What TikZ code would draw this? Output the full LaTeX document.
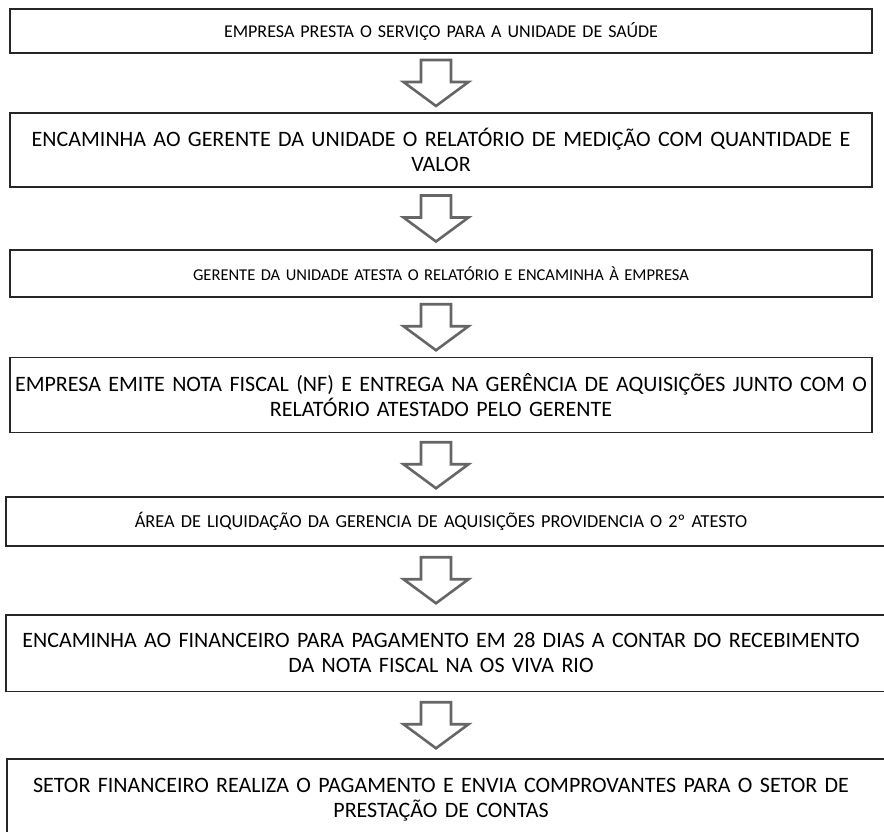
\documentclass[tikz,border=0pt]{standalone}
\usepackage{fontspec}
\setmainfont{Carlito}
\usepackage{tikz}
\usetikzlibrary{calc}
\tikzset{
	caixa/.style={draw=black!85,line width=1.8pt,minimum width=862pt,inner sep=0pt,
		text width=860pt,align=center,text=black,
		font=\fontsize{18}{25}\selectfont},
	caixa dupla/.style={caixa,font=\fontsize{22}{25}\selectfont},
	moldura/.style={draw=black!85,line width=1.8pt},
	seta/.style={draw=black!60,line width=2.6pt,fill=white,line join=miter}
}
% seta larga oca entre duas caixas
\newcommand{\setabloco}[2]{
	\coordinate (m) at ($(#1.south)!0.5!(#2.north)+(-5,0)$);
	\draw[seta] ($(m)+(-15,23)$) -- ($(m)+(15,23)$) -- ($(m)+(15,1)$) -- ($(m)+(32.5,1)$)
		-- ($(m)+(0,-23)$) -- ($(m)+(-32.5,1)$) -- ($(m)+(-15,1)$) -- cycle;
}

\begin{document}
\begin{tikzpicture}[x=1pt,y=1pt]
	\useasboundingbox (0,0) rectangle (884,-832);
	\clip (0,0) rectangle (884,-832);
	\node [caixa,minimum height=44pt] (b1) at (441,-31) {EMPRESA PRESTA O SERVIÇO PARA A UNIDADE DE SAÚDE};
	\node [caixa dupla,minimum height=74pt] (b2) at (441,-150) {ENCAMINHA AO GERENTE DA UNIDADE O RELATÓRIO DE MEDIÇÃO COM QUANTIDADE E\\ VALOR};
	\node [caixa,font=\fontsize{16.5}{25}\selectfont,minimum height=47pt] (b3) at (441,-273.5) {GERENTE DA UNIDADE ATESTA O RELATÓRIO E ENCAMINHA À EMPRESA};
	\node [caixa dupla,minimum height=75pt] (b4) at (441,-395) {EMPRESA EMITE NOTA FISCAL (NF) E ENTREGA NA GERÊNCIA DE AQUISIÇÕES JUNTO COM O\\ RELATÓRIO ATESTADO PELO GERENTE};
	\node [caixa,draw=none,font=\fontsize{18.3}{25}\selectfont,minimum height=47pt] (b5) at (441,-521.5) {ÁREA DE LIQUIDAÇÃO DA GERENCIA DE AQUISIÇÕES PROVIDENCIA O 2º ATESTO};
	\node [caixa dupla,draw=none,minimum height=75pt] (b6) at (441,-653) {ENCAMINHA AO FINANCEIRO PARA PAGAMENTO EM 28 DIAS A CONTAR DO RECEBIMENTO\\ DA NOTA FISCAL NA OS VIVA RIO};
	\node [caixa dupla,draw=none,minimum height=79pt] (b7) at (441,-799.5) {SETOR FINANCEIRO REALIZA O PAGAMENTO E ENVIA COMPROVANTES PARA O SETOR DE\\ PRESTAÇÃO DE CONTAS};
	% caixas abertas na margem direita
	\draw[moldura] ([xshift=-3pt]b5.north west) rectangle ([xshift=30pt]b5.south east);
	\draw[moldura] ([xshift=-3pt]b6.north west) rectangle ([xshift=30pt]b6.south east);
	\draw[moldura] ([xshift=-2pt]b7.north west) rectangle ([xshift=30pt]b7.south east);
	\setabloco{b1}{b2}
	\setabloco{b2}{b3}
	\setabloco{b3}{b4}
	\setabloco{b4}{b5}
	\setabloco{b5}{b6}
	\setabloco{b6}{b7}
\end{tikzpicture}
\end{document}
